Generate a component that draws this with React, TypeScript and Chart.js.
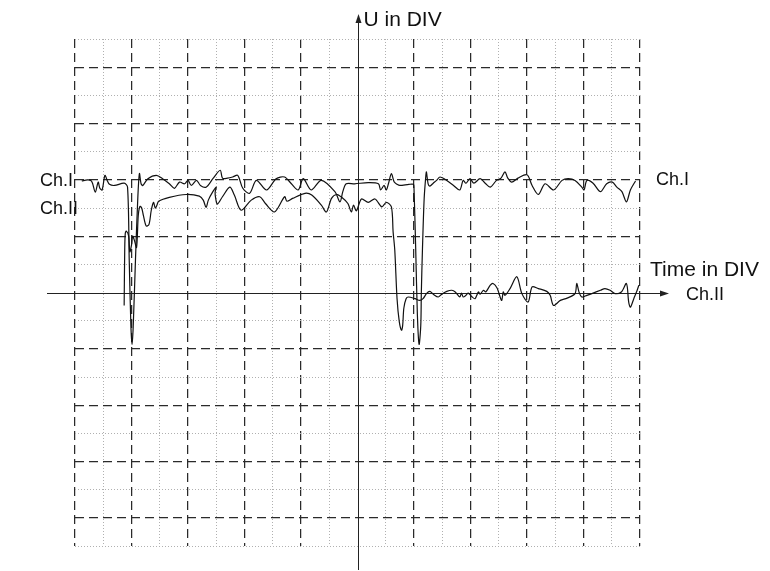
import React, { useEffect, useRef } from "react";
import { Chart, registerables } from "chart.js";

Chart.register(...registerables);

// Time axis (DIV) and voltage axis (DIV) ranges
const xRange = [-5, 5];
const yRange = [-4.5, 4.5];
const gridStep = 0.5;

// Channel I trace
const ch1X = [
  -4.88, -4.78, -4.72, -4.69, -4.64, -4.59, -4.56, -4.52, -4.47, -4.43, -4.39, -4.3, -4.13, -4.07, -4.04, -4.01,
  -3.99, -3.97, -3.93, -3.89, -3.86, -3.83, -3.8, -3.71, -3.56, -3.45, -3.33, -3.24, -3.15, -3.06, -3.0, -2.94,
  -2.85, -2.78, -2.68, -2.56, -2.43, -2.39, -2.3, -2.21, -2.12, -2.03, -1.91, -1.79, -1.61, -1.44, -1.29, -1.17,
  -1.05, -0.96, -0.82, -0.64, -0.4, -0.31, -0.26, -0.2, -0.05, 0.19, 0.37, 0.41, 0.47, 0.51, 0.55, 0.6, 0.65, 0.7,
  0.75, 0.91, 0.99, 1.0, 1.03, 1.06, 1.09, 1.12, 1.13, 1.15, 1.18, 1.21, 1.22, 1.25, 1.28, 1.34, 1.4, 1.46, 1.58,
  1.7, 1.81, 1.87, 1.92, 1.99, 2.06, 2.17, 2.26, 2.35, 2.46, 2.54, 2.61, 2.66, 2.73, 2.84, 3.0, 3.09, 3.2, 3.32,
  3.47, 3.62, 3.73, 3.85, 3.97, 4.01, 4.06, 4.17, 4.3, 4.41, 4.51, 4.59, 4.68, 4.76, 4.83, 4.92,
];
const ch1Y = [
  1.98, 2.0, 1.99, 1.94, 1.78, 1.96, 1.85, 1.82, 2.08, 1.99, 1.92, 1.9, 1.94, 1.87, 0.57, -0.61,
  -0.92, -0.61, 0.57, 1.64, 2.11, 1.93, 1.9, 2.02, 2.08, 2.02, 1.93, 1.85, 1.96, 1.93, 1.99, 1.9,
  1.99, 1.9, 1.87, 2.02, 2.17, 2.03, 2.03, 2.05, 2.08, 1.85, 1.76, 1.99, 1.82, 2.02, 2.05, 1.93,
  1.82, 2.02, 1.82, 1.99, 1.79, 1.61, 1.79, 1.93, 1.93, 1.95, 1.93, 1.82, 1.9, 1.82, 1.94, 2.11, 1.96, 1.92,
  1.9, 1.92, 1.92, 1.85, 0.78, -0.4, -0.92, -0.58, 0.01, 0.78, 1.67, 2.08, 2.14, 1.93, 1.89, 1.94, 1.99, 2.05, 1.99,
  1.9, 1.82, 1.99, 1.94, 2.02, 1.94, 2.02, 1.94, 1.87, 1.99, 2.03, 2.14, 2.03, 1.96, 2.03, 2.09, 1.9, 1.74, 1.93,
  1.82, 1.99, 2.02, 1.99, 1.87, 1.82, 1.99, 1.94, 1.79, 1.93, 1.96, 1.87, 1.79, 1.61, 1.82, 1.98,
];

// Channel II trace
const ch2X = [
  -4.13, -4.12, -4.11, -4.09, -4.05, -4.03, -4.0, -3.98, -3.95, -3.91, -3.88, -3.85, -3.82, -3.79, -3.74, -3.69,
  -3.65, -3.61, -3.58, -3.55, -3.52, -3.33, -3.03, -2.8, -2.73, -2.68, -2.64, -2.56, -2.5, -2.52, -2.51, -2.48,
  -2.39, -2.26, -2.18, -2.06, -1.88, -1.73, -1.63, -1.47, -1.29, -1.25, -1.15, -0.93, -0.81, -0.64, -0.55, -0.46,
  -0.37, -0.28, -0.17, -0.11, -0.07, -0.02, 0.07, 0.19, 0.31, 0.43, 0.51, 0.6,
  0.63, 0.66, 0.7, 0.74, 0.78, 0.8, 0.82, 0.86, 0.9, 1.02, 1.1, 1.16, 1.22, 1.28, 1.34, 1.43, 1.49, 1.58, 1.67,
  1.73, 1.81, 1.84, 1.87, 1.92, 1.96, 2.02, 2.08, 2.14, 2.17, 2.23, 2.27, 2.35, 2.4, 2.47, 2.55, 2.58, 2.61, 2.7,
  2.82, 2.91, 3.02, 3.09, 3.2, 3.35, 3.41, 3.47, 3.59, 3.71, 3.85, 3.88, 3.92, 3.97, 4.06, 4.17, 4.3, 4.38, 4.47,
  4.56, 4.67, 4.76, 4.8, 4.83, 4.89, 4.95, 4.98,
];
const ch2Y = [
  -0.23, 0.75, 1.05, 1.09, 1.0, 0.72, 0.84, 1.0, 0.93, 0.8, 1.37, 1.53, 1.5, 1.37, 1.18, 1.21,
  1.46, 1.6, 1.5, 1.55, 1.62, 1.69, 1.74, 1.71, 1.64, 1.51, 1.64, 1.79, 1.87, 1.78, 1.67, 1.57,
  1.7, 1.87, 1.73, 1.46, 1.64, 1.7, 1.58, 1.43, 1.7, 1.62, 1.67, 1.76, 1.73, 1.55, 1.43, 1.67,
  1.74, 1.69, 1.58, 1.43, 1.55, 1.45, 1.66, 1.6, 1.66, 1.52, 1.6, 1.52,
  1.08, 0.75, -0.11, -0.52, -0.67, -0.58, -0.28, -0.11, -0.08, -0.11, -0.14, -0.11, -0.02, 0.02, -0.03, -0.08, -0.03, 0.02, 0.04,
  0.01, -0.08, -0.01, -0.08, -0.05, -0.01, -0.07, -0.11, 0.01, -0.03, 0.04, 0.01, 0.13, 0.16, 0.08, -0.14, 0.01, -0.05, 0.07,
  0.28, -0.02, -0.17, 0.1, 0.07, 0.02, -0.05, -0.23, -0.14, -0.1, -0.02, 0.16, 0.01, -0.08, -0.05, -0.01, 0.04, 0.07, 0.04,
  -0.02, 0.01, 0.16, -0.17, -0.26, -0.11, 0.04, 0.13,
];

const axisTitles = { y: "U in DIV", x: "Time in DIV" };
const channelNames = ["Ch.I", "Ch.II"];

const FONT = "'Liberation Sans', Arial, sans-serif";
const INK = "#111";

const toPoints = (xs: number[], ys: number[]) => xs.map((x, i) => ({ x, y: ys[i] }));

const isMajor = (v: number) => Math.abs(v - Math.round(v)) < 1e-6;

const scopePlugin = {
  id: "scope",
  beforeDatasetsDraw(chart: any) {
    const { ctx, chartArea, scales } = chart;
    const x0 = Math.round(scales.x.getPixelForValue(0)) + 0.5;
    const y0 = Math.round(scales.y.getPixelForValue(0)) + 0.5;
    ctx.save();
    ctx.strokeStyle = "#222";
    ctx.fillStyle = "#222";
    ctx.lineWidth = 1;
    ctx.setLineDash([]);
    // vertical axis
    const yTip = chartArea.top - 25;
    ctx.beginPath();
    ctx.moveTo(x0, chartArea.bottom + 24);
    ctx.lineTo(x0, yTip + 4);
    ctx.stroke();
    ctx.beginPath();
    ctx.moveTo(x0, yTip);
    ctx.lineTo(x0 - 3, yTip + 9);
    ctx.lineTo(x0 + 3, yTip + 9);
    ctx.closePath();
    ctx.fill();
    // horizontal axis
    const xTip = chartArea.right + 29;
    ctx.beginPath();
    ctx.moveTo(chartArea.left - 28, y0);
    ctx.lineTo(xTip - 4, y0);
    ctx.stroke();
    ctx.beginPath();
    ctx.moveTo(xTip, y0);
    ctx.lineTo(xTip - 9, y0 - 3);
    ctx.lineTo(xTip - 9, y0 + 3);
    ctx.closePath();
    ctx.fill();
    ctx.restore();
  },
  afterDraw(chart: any) {
    const { ctx, chartArea, scales } = chart;
    const x0 = scales.x.getPixelForValue(0);
    const y0 = scales.y.getPixelForValue(0);
    const yCh1 = scales.y.getPixelForValue(2);
    const yCh2 = scales.y.getPixelForValue(1.5);
    ctx.save();
    ctx.fillStyle = INK;
    ctx.textBaseline = "alphabetic";
    ctx.textAlign = "left";
    ctx.font = `21px ${FONT}`;
    ctx.fillText(axisTitles.y, x0 + 6, chartArea.top - 13);
    ctx.fillText(axisTitles.x, chartArea.right + 10, y0 - 17);
    ctx.font = `18px ${FONT}`;
    ctx.fillText(channelNames[0], 40, yCh1 + 6);
    ctx.fillText(channelNames[1], 40, yCh2 + 6);
    ctx.fillText(channelNames[0], chartArea.right + 16, yCh1 + 5);
    ctx.fillText(channelNames[1], chartArea.right + 46, y0 + 7);
    ctx.restore();
  },
};

export default function App() {
  const ref = useRef<HTMLCanvasElement | null>(null);

  useEffect(() => {
    if (!ref.current) return;
    const gridColor = (c: any) => {
      const v = c.tick ? c.tick.value : 1;
      if (Math.abs(v) < 1e-6) return "rgba(0,0,0,0)";
      return isMajor(v) ? "#2a2a2a" : "#b0b0b0";
    };
    const gridWidth = (c: any) => {
      const v = c.tick ? c.tick.value : 1;
      return isMajor(v) ? 1.25 : 1;
    };
    const gridDash = (c: any) => {
      const v = c.tick ? c.tick.value : 1;
      return isMajor(v) ? [9, 5] : [1, 2];
    };
    const trace = (data: any[]) => ({
      data,
      borderColor: INK,
      borderWidth: 1.2,
      pointRadius: 0,
      tension: 0.3,
      fill: false,
    });
    const chart = new Chart(ref.current, {
      type: "line",
      data: {
        datasets: [trace(toPoints(ch1X, ch1Y)), trace(toPoints(ch2X, ch2Y))],
      },
      options: {
        animation: false,
        responsive: false,
        devicePixelRatio: 1,
        events: [],
        layout: { padding: { left: 75, right: 130, top: 39, bottom: 25 } },
        plugins: { legend: { display: false }, tooltip: { enabled: false }, title: { display: false } },
        scales: {
          x: {
            type: "linear",
            min: xRange[0],
            max: xRange[1],
            ticks: { display: false, stepSize: gridStep },
            grid: { color: gridColor, lineWidth: gridWidth, drawTicks: false },
            border: { display: false, dash: gridDash },
          },
          y: {
            type: "linear",
            min: yRange[0],
            max: yRange[1],
            ticks: { display: false, stepSize: gridStep },
            grid: { color: gridColor, lineWidth: gridWidth, drawTicks: false },
            border: { display: false, dash: gridDash },
          },
        },
      },
      plugins: [scopePlugin],
    });
    return () => chart.destroy();
  }, []);

  return (
    <div style={{ position: "fixed", left: 0, top: 0, width: 770, height: 571, background: "#fff" }}>
      <canvas ref={ref} width={770} height={571} style={{ display: "block" }} />
    </div>
  );
}
